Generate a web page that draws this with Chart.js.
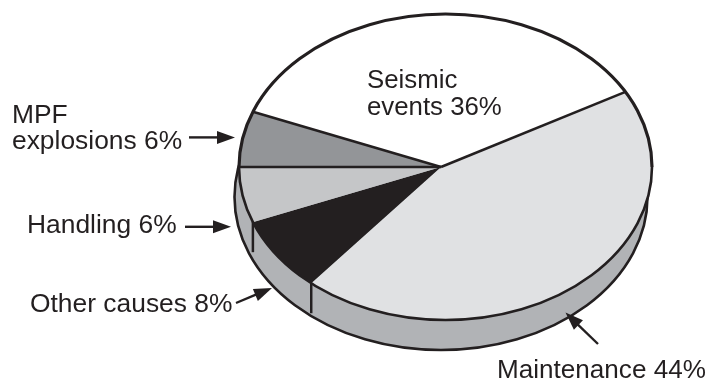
<!DOCTYPE html>
<html>
<head>
<meta charset="utf-8">
<style>
  html, body { margin: 0; padding: 0; background: #fff; }
  canvas { display: block; }
</style>
<script src="https://cdn.jsdelivr.net/npm/chart.js@4"></script>
</head>
<body>
<canvas id="pie" width="710" height="382"></canvas>
<script>
// Causes of failure, percent share
const categories = ['Seismic events', 'Maintenance', 'Other causes', 'Handling', 'MPF explosions'];
const shares = [36, 44, 8, 6, 6];
const sliceColors = ['#ffffff', '#e0e1e3', '#231f20', '#c5c6c8', '#939598'];

const INK = '#231f20';
const WALL = '#b1b3b6';
const FONT_FAMILY = '"Liberation Sans", Arial, sans-serif';

// Disc projection: the circle is squashed vertically, its top face sits a little
// right of the pivot and the side wall hangs below the face.
const TILT = 153 / 206.5;
const FACE_RX = 206.5;
const FACE_RY = 153;
const FACE_SHIFT_X = 4.5;
const WALL_DEPTH = 30;

// Callouts: font size, text lines with their anchor, and leader arrows
const callouts = [
  { size: 25.8, lines: [['Seismic', 367, 88], ['events ' + shares[0] + '%', 367, 115]] },
  { size: 26.1, lines: [['Maintenance ' + shares[1] + '%', 497, 378]] },
  { size: 26.4, lines: [['Other causes ' + shares[2] + '%', 30, 312]] },
  { size: 26.4, lines: [['Handling ' + shares[3] + '%', 27, 233]] },
  { size: 26.4, lines: [['MPF', 12, 123], ['explosions ' + shares[4] + '%', 12, 149]] }
];
const arrows = [
  [189, 137.4, 235, 137.4],
  [185, 226.8, 231, 226.8],
  [236, 303, 272, 288],
  [598, 344, 565.5, 312.5]
];

function rimPoint(c, angle) {
  const dx = Math.cos(angle), dy = TILT * Math.sin(angle);
  const A = dx * dx / (FACE_RX * FACE_RX) + dy * dy / (FACE_RY * FACE_RY);
  const B = -2 * FACE_SHIFT_X * dx / (FACE_RX * FACE_RX);
  const C = FACE_SHIFT_X * FACE_SHIFT_X / (FACE_RX * FACE_RX) - 1;
  const t = (-B + Math.sqrt(B * B - 4 * A * C)) / (2 * A);
  return { x: c.x + t * dx, y: c.y + t * dy };
}

function arrow(ctx, x0, y0, x1, y1) {
  const a = Math.atan2(y1 - y0, x1 - x0);
  const len = 18, half = 6.5;
  ctx.strokeStyle = INK;
  ctx.fillStyle = INK;
  ctx.lineWidth = 2.4;
  ctx.beginPath();
  ctx.moveTo(x0, y0);
  ctx.lineTo(x1 - Math.cos(a) * len * 0.9, y1 - Math.sin(a) * len * 0.9);
  ctx.stroke();
  const bx = x1 - Math.cos(a) * len, by = y1 - Math.sin(a) * len;
  ctx.beginPath();
  ctx.moveTo(x1, y1);
  ctx.lineTo(bx - Math.sin(a) * half, by + Math.cos(a) * half);
  ctx.lineTo(bx + Math.sin(a) * half, by - Math.cos(a) * half);
  ctx.closePath();
  ctx.fill();
}

const disc3d = {
  id: 'disc3d',
  beforeDatasetsDraw(chart) {
    const ctx = chart.ctx;
    const first = chart.getDatasetMeta(0).data[0];
    const c = { x: first.x, y: first.y };

    // Side wall, seen below the top face
    ctx.save();
    ctx.beginPath();
    ctx.ellipse(c.x, c.y + WALL_DEPTH, FACE_RX, FACE_RY, 0, 0, Math.PI * 2);
    ctx.fillStyle = WALL;
    ctx.fill();
    ctx.strokeStyle = INK;
    ctx.lineWidth = 2.6;
    ctx.stroke();
    ctx.restore();

    // Slices are drawn squashed and trimmed to the face outline
    ctx.save();
    ctx.beginPath();
    ctx.ellipse(c.x + FACE_SHIFT_X, c.y, FACE_RX, FACE_RY, 0, 0, Math.PI * 2);
    ctx.clip();
    ctx.translate(c.x, c.y);
    ctx.scale(1, TILT);
    ctx.translate(-c.x, -c.y);
  },
  afterDatasetsDraw(chart) {
    const ctx = chart.ctx;
    ctx.restore();

    const arcs = chart.getDatasetMeta(0).data;
    const c = { x: arcs[0].x, y: arcs[0].y };
    ctx.strokeStyle = INK;
    ctx.lineCap = 'butt';

    // Wall seams at both edges of the dark slice
    const dark = arcs[categories.indexOf('Other causes')];
    ctx.lineWidth = 2.5;
    [dark.startAngle, dark.endAngle].forEach(a => {
      const p = rimPoint(c, a);
      ctx.beginPath();
      ctx.moveTo(p.x, p.y);
      ctx.lineTo(p.x, p.y + WALL_DEPTH);
      ctx.stroke();
    });

    // Radial dividers
    const seismic = arcs[categories.indexOf('Seismic events')];
    const mpf = arcs[categories.indexOf('MPF explosions')];
    ctx.lineWidth = 2.5;
    [seismic.startAngle, seismic.endAngle, mpf.startAngle].forEach(a => {
      const p = rimPoint(c, a);
      ctx.beginPath();
      ctx.moveTo(c.x, c.y);
      ctx.lineTo(p.x, p.y);
      ctx.stroke();
    });

    // Rim of the top face: heavier along the far side
    ctx.lineWidth = 2.6;
    ctx.beginPath();
    ctx.ellipse(c.x + FACE_SHIFT_X, c.y, FACE_RX, FACE_RY, 0, 0, Math.PI);
    ctx.stroke();
    ctx.lineWidth = 3.2;
    ctx.beginPath();
    ctx.ellipse(c.x + FACE_SHIFT_X, c.y, FACE_RX, FACE_RY, 0, Math.PI, Math.PI * 2);
    ctx.stroke();
  },
  afterDraw(chart) {
    const ctx = chart.ctx;
    ctx.save();
    ctx.fillStyle = INK;
    ctx.textBaseline = 'alphabetic';
    ctx.textAlign = 'left';
    callouts.forEach(o => {
      ctx.font = o.size + 'px ' + FONT_FAMILY;
      o.lines.forEach(([t, x, y]) => ctx.fillText(t, x, y));
    });
    arrows.forEach(a => arrow(ctx, a[0], a[1], a[2], a[3]));
    ctx.restore();
  }
};

new Chart(document.getElementById('pie'), {
  type: 'pie',
  data: {
    labels: categories,
    datasets: [{
      data: shares,
      backgroundColor: sliceColors,
      borderWidth: 0,
      clip: false
    }]
  },
  options: {
    responsive: false,
    animation: false,
    events: [],
    rotation: -68.4,
    radius: 240,
    layout: { padding: { left: 172, right: 0, top: 0, bottom: 48 } },
    plugins: { legend: { display: false }, tooltip: { enabled: false } }
  },
  plugins: [disc3d]
});
</script>
</body>
</html>
